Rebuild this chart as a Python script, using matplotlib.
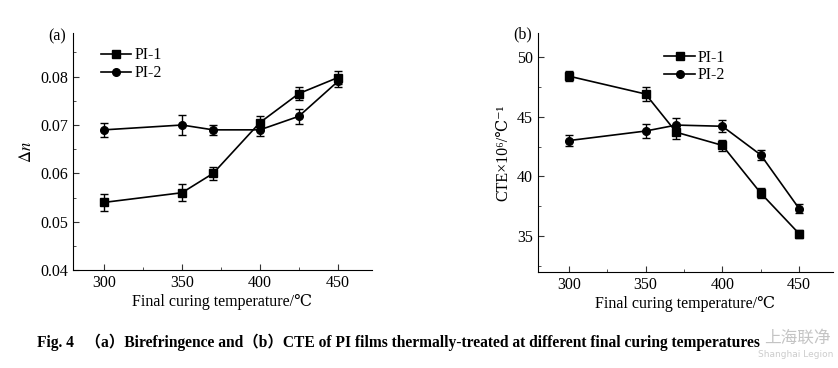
import matplotlib
matplotlib.use("Agg")
import matplotlib.pyplot as plt
from matplotlib.lines import Line2D
from matplotlib.ticker import MultipleLocator

plt.rcParams['font.family'] = ['Liberation Serif', 'DejaVu Serif', 'Noto Sans CJK SC']
plt.rcParams['mathtext.fontset'] = 'stix'

temps = [300, 350, 370, 400, 425, 450]

# (a) birefringence
dn_pi1 = [0.054, 0.056, 0.060, 0.0705, 0.0765, 0.0798]
dn_pi1_err = [0.0018, 0.0018, 0.0014, 0.0014, 0.0014, 0.0014]
dn_pi2 = [0.069, 0.070, 0.069, 0.069, 0.0718, 0.0790]
dn_pi2_err = [0.0014, 0.0020, 0.0010, 0.0012, 0.0015, 0.0012]

# (b) CTE
cte_pi1 = [48.4, 46.9, 43.7, 42.6, 38.6, 35.2]
cte_pi1_err = [0.45, 0.6, 0.55, 0.45, 0.4, 0.35]
cte_pi2 = [43.0, 43.8, 44.3, 44.2, 41.8, 37.3]
cte_pi2_err = [0.45, 0.6, 0.6, 0.5, 0.4, 0.35]

fig = plt.figure(figsize=(8.38, 3.68), dpi=100)
axa = fig.add_axes([0.087, 0.266, 0.357, 0.644])
axb = fig.add_axes([0.642, 0.261, 0.352, 0.649])

style = dict(color='black', lw=1.2, ms=5.5, capsize=2.8, elinewidth=1.0, capthick=1.0)

axa.errorbar(temps, dn_pi1, yerr=dn_pi1_err, marker='s', **style)
axa.errorbar(temps, dn_pi2, yerr=dn_pi2_err, marker='o', **style)
axb.errorbar(temps, cte_pi1, yerr=cte_pi1_err, marker='s', **style)
axb.errorbar(temps, cte_pi2, yerr=cte_pi2_err, marker='o', **style)

handles = [Line2D([], [], color='black', lw=1.2, marker='s', ms=5.5),
           Line2D([], [], color='black', lw=1.2, marker='o', ms=5.5)]
labels = ['PI-1', 'PI-2']

for ax in (axa, axb):
    ax.spines['top'].set_visible(False)
    ax.spines['right'].set_visible(False)
    ax.set_xlim(280, 472)
    ax.set_xticks([300, 350, 400, 450])
    ax.xaxis.set_minor_locator(MultipleLocator(25))
    ax.tick_params(direction='in', which='both', labelsize=11.5, color='#333333')
    ax.tick_params(which='major', length=4)
    ax.tick_params(which='minor', length=2.5)
    ax.set_xlabel('Final curing temperature/℃', fontsize=11.5, labelpad=2)

axa.set_ylim(0.04, 0.089)
axa.set_yticks([0.04, 0.05, 0.06, 0.07, 0.08])
axa.yaxis.set_minor_locator(MultipleLocator(0.005))
axa.set_ylabel(r'$\Delta n$', fontsize=12, labelpad=4)
axa.legend(handles, labels, loc='upper left', bbox_to_anchor=(0.045, 1.0), frameon=False,
           fontsize=11.5, handlelength=1.9, handletextpad=0.2, labelspacing=0.1)

axb.set_ylim(32, 52)
axb.set_yticks([35, 40, 45, 50])
axb.yaxis.set_minor_locator(MultipleLocator(2.5))
axb.set_ylabel('CTE×10⁶/℃⁻¹', fontsize=11.5, labelpad=4)
axb.legend(handles, labels, loc='upper left', bbox_to_anchor=(0.38, 0.99), frameon=False,
           fontsize=11.5, handlelength=1.9, handletextpad=0.2, labelspacing=0.1)

fig.text(0.058, 0.89, '(a)', fontsize=11.5)
fig.text(0.612, 0.895, '(b)', fontsize=11.5)

fig.text(0.044, 0.045,
         'Fig. 4   （a）Birefringence and（b）CTE of PI films thermally-treated at different final curing temperatures',
         fontsize=11.2, fontweight='bold', va='bottom')

fig.text(0.912, 0.068, '上海联净', fontsize=12, color='#c4c4c4',
         family=['Noto Sans CJK SC', 'DejaVu Sans'])
fig.text(0.905, 0.03, 'Shanghai Legion', fontsize=6.5, color='#cccccc',
         family=['DejaVu Sans'])

fig.savefig('out.png', dpi=100)
